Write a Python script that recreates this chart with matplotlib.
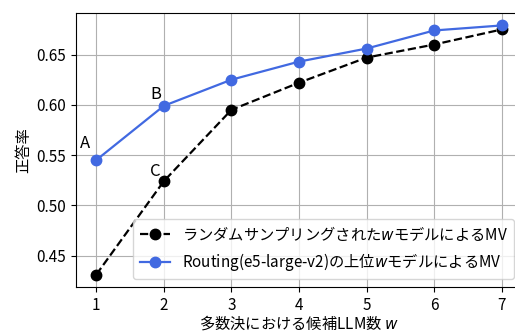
import matplotlib
matplotlib.use('Agg')
import matplotlib.pyplot as plt

plt.rcParams['font.family'] = ['Noto Sans CJK JP', 'DejaVu Sans']
plt.rcParams['font.size'] = 11

# data
w = [1, 2, 3, 4, 5, 6, 7]
random_mv = [0.431, 0.524, 0.595, 0.622, 0.647, 0.660, 0.675]
routing_mv = [0.545, 0.599, 0.625, 0.643, 0.656, 0.674, 0.679]
random_label = 'ランダムサンプリングされた$w$モデルによるMV'
routing_label = 'Routing(e5-large-v2)の上位$w$モデルによるMV'
# label text, x, y (data coords of the text baseline)
annotations = [('A', 0.84, 0.557), ('B', 1.88, 0.606), ('C', 1.87, 0.529)]

fig = plt.figure(figsize=(5.15, 3.33), dpi=100)
ax = fig.add_axes([0.1476, 0.138, 0.866, 0.823])

ax.plot(w, random_mv, 'o--', color='black', lw=1.6, ms=7.5, label=random_label)
ax.plot(w, routing_mv, 'o-', color='royalblue', lw=1.6, ms=7.5, label=routing_label)

for txt, x, y in annotations:
    ax.text(x, y, txt, ha='center', va='baseline', fontsize=12)

ax.set_xticks(w)
ax.set_yticks([0.45, 0.50, 0.55, 0.60, 0.65])
ax.grid(True, color='#b0b0b0', lw=0.8)
ax.set_xlabel('多数決における候補LLM数 $w$', labelpad=0)
ax.set_ylabel('正答率', labelpad=3)
ax.legend(loc='lower right')

fig.savefig('out.png', dpi=100)
